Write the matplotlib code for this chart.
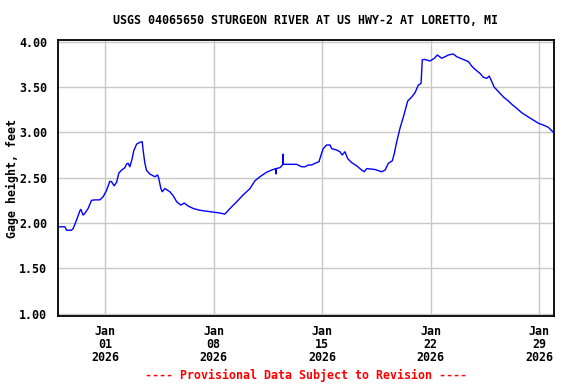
import datetime as dt
import matplotlib
matplotlib.use("Agg")
import matplotlib.pyplot as plt
import matplotlib.dates as mdates

# gage height readings
# time is days after 2026-01-01 00:00
days = [-3.03, -2.60, -2.49, -2.17, -2.06, -1.85, -1.63, -1.57, -1.42, -1.31,
        -1.10, -0.88, -0.66, -0.34, -0.13, 0.09, 0.30, 0.41, 0.58, 0.74,
        0.88, 1.06, 1.27, 1.38, 1.48, 1.59, 1.74, 1.85, 2.03, 2.24,
        2.39, 2.45, 2.56, 2.67, 2.88, 3.21, 3.38, 3.46, 3.59, 3.68,
        3.85, 4.17, 4.39, 4.61, 4.88, 5.10, 5.35, 5.68, 6.11, 6.54,
        6.97, 7.40, 7.72, 8.05, 8.48, 8.90, 9.34, 9.66, 9.98, 10.41,
        10.74, 11.00, 11.01, 11.02, 11.27, 11.47, 11.48, 11.49, 12.35, 12.67,
        12.89, 13.10, 13.32, 13.53, 13.79, 13.92, 14.06, 14.28, 14.50, 14.61,
        14.93, 15.14, 15.29, 15.46, 15.64, 15.90, 16.22, 16.54, 16.71, 16.86,
        17.40, 17.83, 18.05, 18.26, 18.52, 18.65, 18.80, 19.01, 19.23, 19.38,
        19.51, 19.77, 19.98, 20.19, 20.37, 20.45, 20.58, 20.95, 21.23, 21.42,
        21.70, 21.92, 22.13, 22.45, 22.67, 23.00, 23.42, 23.64, 23.85, 24.17,
        24.39, 24.61, 24.77, 24.93, 25.08, 25.35, 25.68, 26.00, 26.28, 26.54,
        26.86, 27.19, 27.61, 27.94, 28.26, 28.58, 28.86]
height = [1.958, 1.958, 1.92, 1.92, 1.94, 2.03, 2.135, 2.15, 2.087, 2.106,
          2.16, 2.25, 2.255, 2.255, 2.29, 2.36, 2.46, 2.455, 2.41, 2.45,
          2.55, 2.584, 2.61, 2.65, 2.658, 2.62, 2.71, 2.80, 2.87, 2.89,
          2.896, 2.80, 2.66, 2.58, 2.54, 2.51, 2.53, 2.49, 2.38, 2.345,
          2.38, 2.345, 2.30, 2.234, 2.197, 2.22, 2.187, 2.16, 2.14, 2.13,
          2.12, 2.11, 2.098, 2.16, 2.234, 2.31, 2.38, 2.466, 2.51, 2.56,
          2.584, 2.60, 2.54, 2.60, 2.61, 2.647, 2.76, 2.647, 2.647, 2.62,
          2.62, 2.64, 2.64, 2.658, 2.676, 2.75, 2.82, 2.86, 2.86, 2.82,
          2.805, 2.786, 2.75, 2.786, 2.71, 2.665, 2.63, 2.584, 2.565, 2.60,
          2.59, 2.565, 2.584, 2.658, 2.687, 2.77, 2.896, 3.044, 3.17, 3.265,
          3.345, 3.39, 3.437, 3.52, 3.54, 3.80, 3.805, 3.787, 3.817, 3.853,
          3.817, 3.834, 3.853, 3.864, 3.834, 3.81, 3.78, 3.73, 3.695, 3.65,
          3.607, 3.596, 3.62, 3.56, 3.50, 3.45, 3.39, 3.345, 3.30, 3.265,
          3.216, 3.18, 3.136, 3.10, 3.08, 3.055, 3.007]

title = "USGS 04065650 STURGEON RIVER AT US HWY-2 AT LORETTO, MI"
ylabel = "Gage height, feet"
footer = "---- Provisional Data Subject to Revision ----"
yticks = [1.0, 1.5, 2.0, 2.5, 3.0, 3.5, 4.0]
xtick_dates = ["2026-01-01", "2026-01-08", "2026-01-15", "2026-01-22", "2026-01-29"]

start = dt.datetime(2026, 1, 1)
times = [start + dt.timedelta(days=d) for d in days]

plt.rcParams['font.family'] = ['DejaVu Sans Mono']
plt.rcParams['font.weight'] = 'bold'
fs = 8.4

fig = plt.figure(figsize=(5.76, 3.84), dpi=100)
ax = fig.add_axes([0.101, 0.178, 0.861, 0.718])

ax.plot(times, height, color='#0000ff', lw=1.0)

ax.set_xlim(start + dt.timedelta(days=-3.03), start + dt.timedelta(days=28.95))
ax.set_ylim(0.978, 4.019)
ax.set_yticks(yticks)
ax.yaxis.set_major_formatter(matplotlib.ticker.FormatStrFormatter('%.2f'))

ax.set_xticks([dt.datetime.strptime(s, "%Y-%m-%d") for s in xtick_dates])
ax.xaxis.set_major_formatter(mdates.DateFormatter('%b\n%d\n%Y'))

ax.grid(True, color='#c8c8c8', lw=1)
ax.set_axisbelow(True)
ax.tick_params(length=0, labelsize=fs)
ax.tick_params(axis='x', pad=7)
ax.tick_params(axis='y', pad=8)
for lab in ax.get_xticklabels():
    lab.set_linespacing(0.97)
    lab.set_fontweight('bold')
for lab in ax.get_yticklabels():
    lab.set_fontweight('bold')
for sp in ax.spines.values():
    sp.set_linewidth(1.3)
    sp.set_color('black')

fig.text(0.531, 0.946, title, ha='center', va='center', fontsize=fs, fontweight='bold')
fig.text(0.021, 0.535, ylabel, ha='center', va='center', rotation=90,
         fontsize=fs, fontweight='bold')
fig.text(0.531, 0.023, footer, ha='center', va='center', fontsize=fs,
         fontweight='bold', color='#ff0000')

fig.savefig("out.png", dpi=100)
